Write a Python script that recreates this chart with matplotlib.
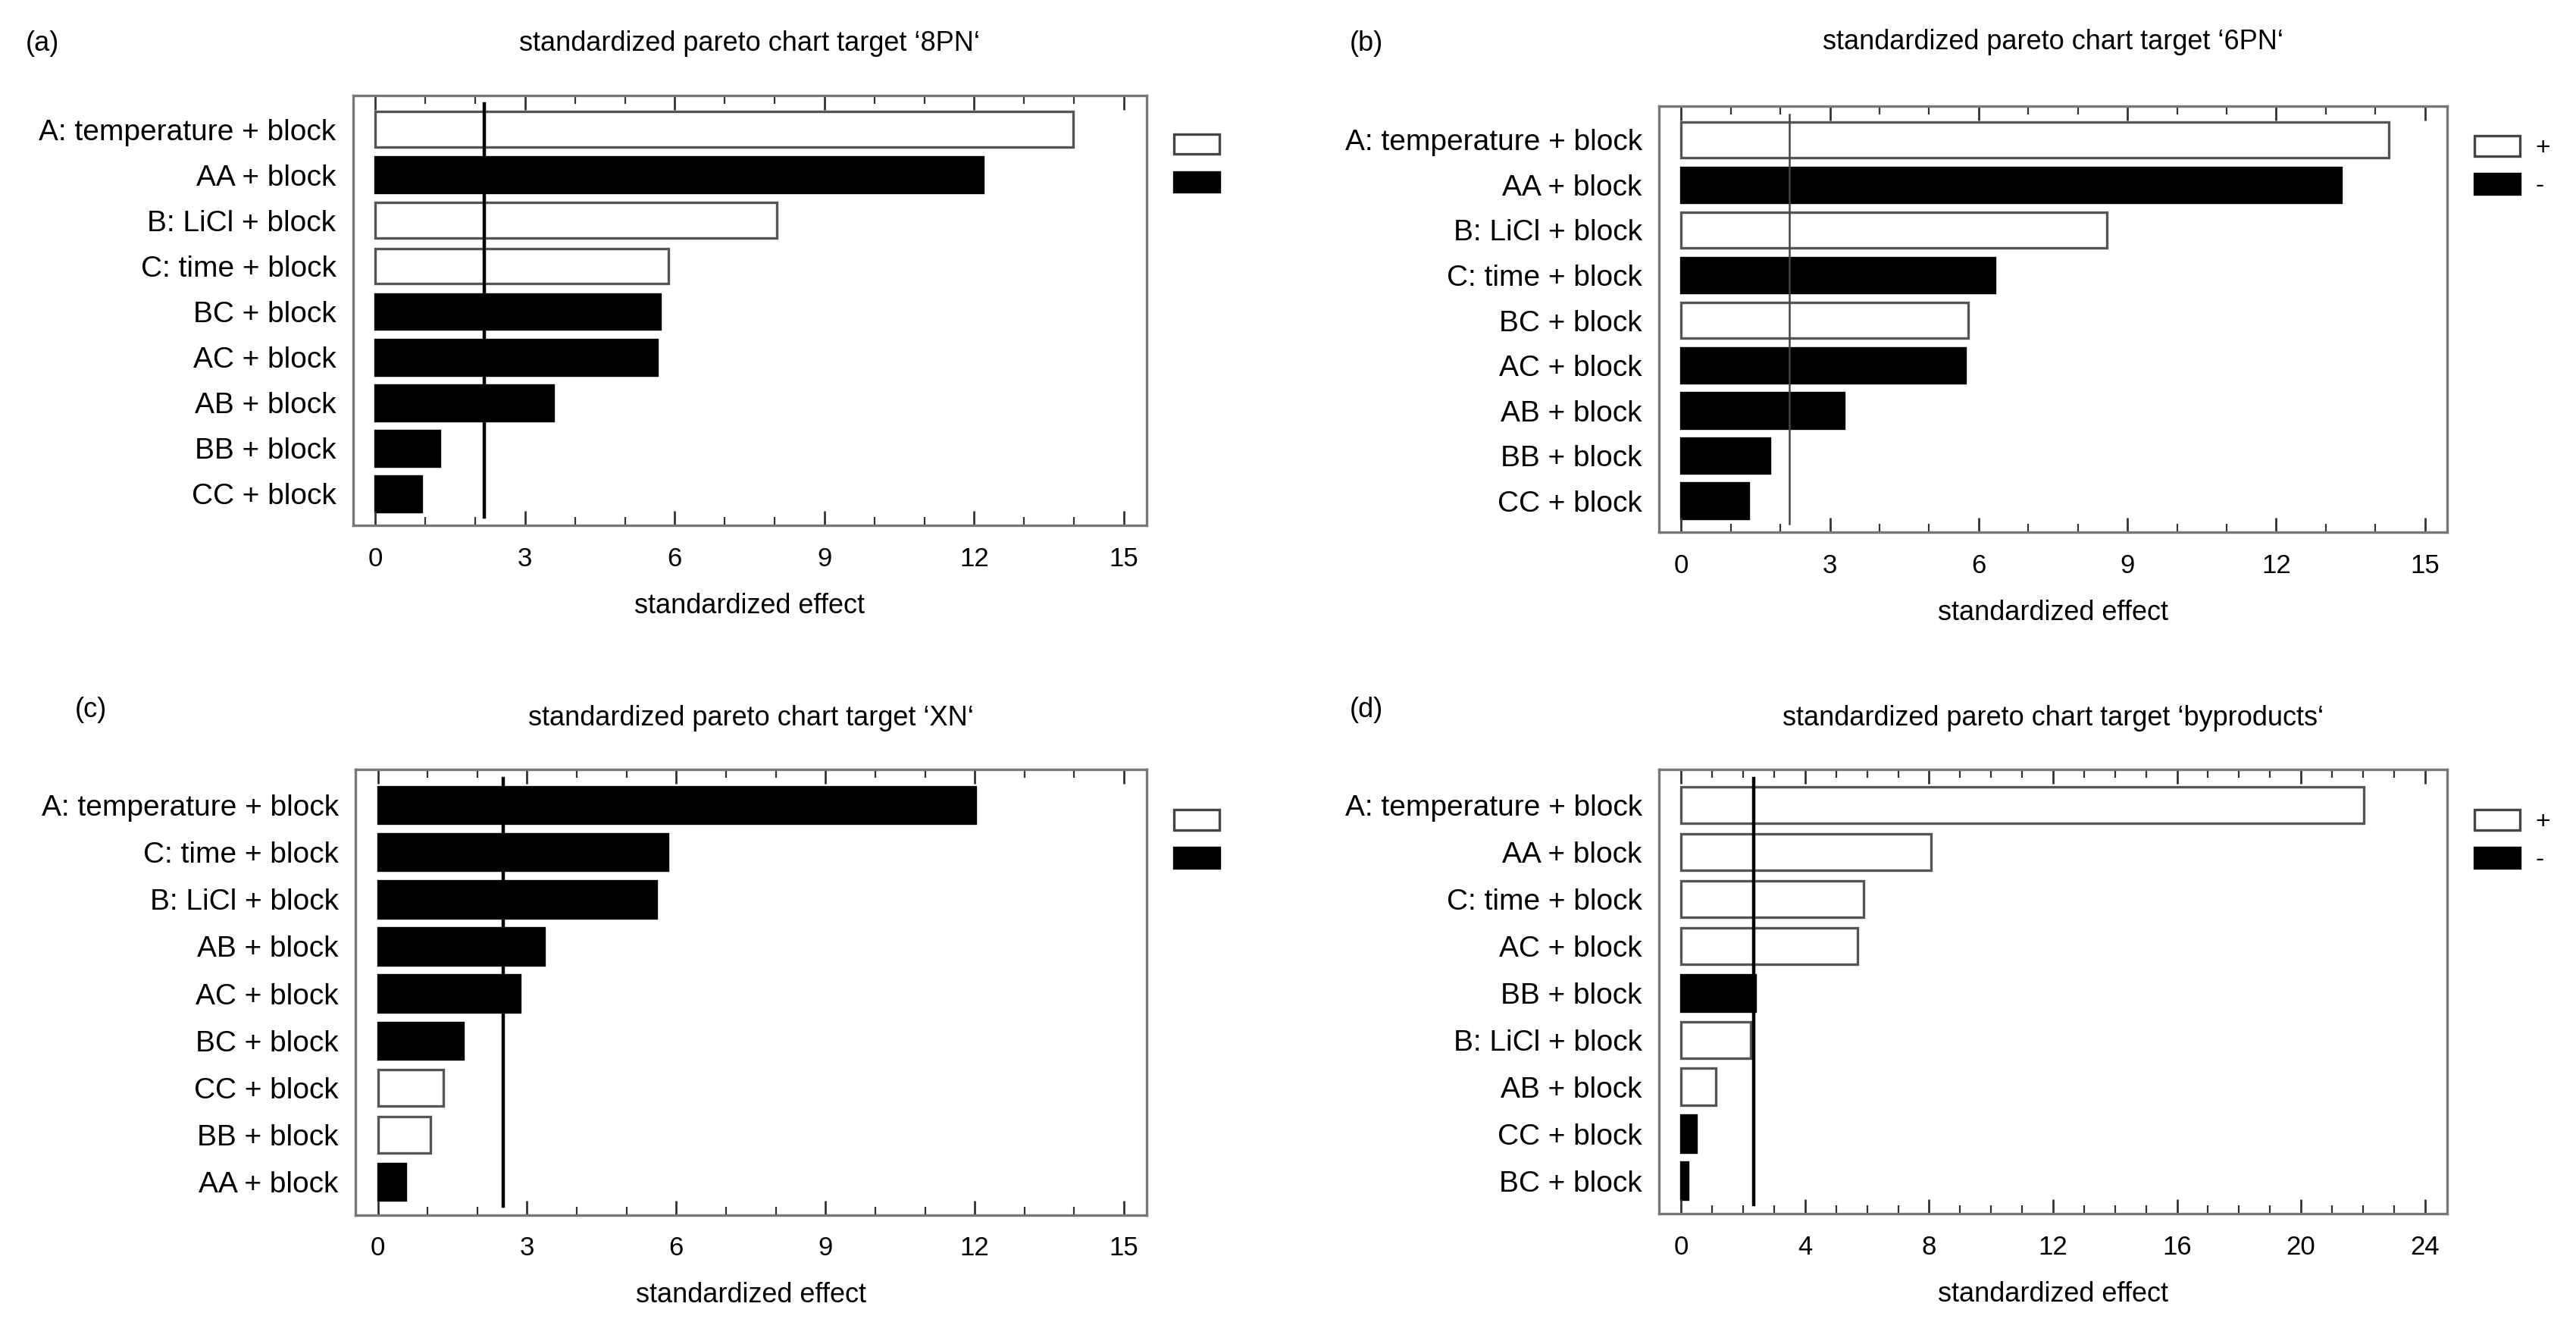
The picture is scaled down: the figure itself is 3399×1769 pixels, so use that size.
import matplotlib
matplotlib.use("Agg")
import matplotlib.pyplot as plt
from matplotlib.patches import Patch

plt.rcParams['font.family'] = ['Liberation Sans', 'DejaVu Sans']

# panel (a) target 8PN
labels_a = ['A: temperature + block', 'AA + block', 'B: LiCl + block', 'C: time + block',
            'BC + block', 'AC + block', 'AB + block', 'BB + block', 'CC + block']
values_a = [13.98, 12.17, 8.04, 5.87, 5.70, 5.64, 3.56, 1.29, 0.92]
signs_a = ['+', '-', '+', '+', '-', '-', '-', '-', '-']
limit_a = 2.18

# panel (b) target 6PN
labels_b = ['A: temperature + block', 'AA + block', 'B: LiCl + block', 'C: time + block',
            'BC + block', 'AC + block', 'AB + block', 'BB + block', 'CC + block']
values_b = [14.27, 13.31, 8.58, 6.32, 5.79, 5.73, 3.28, 1.79, 1.36]
signs_b = ['+', '-', '+', '-', '+', '-', '-', '-', '-']
limit_b = 2.18

# panel (c) target XN
labels_c = ['A: temperature + block', 'C: time + block', 'B: LiCl + block', 'AB + block',
            'AC + block', 'BC + block', 'CC + block', 'BB + block', 'AA + block']
values_c = [12.02, 5.83, 5.60, 3.34, 2.85, 1.72, 1.32, 1.06, 0.56]
signs_c = ['-', '-', '-', '-', '-', '-', '+', '+', '-']
limit_c = 2.52

# panel (d) target byproducts
labels_d = ['A: temperature + block', 'AA + block', 'C: time + block', 'AC + block',
            'BB + block', 'B: LiCl + block', 'AB + block', 'CC + block', 'BC + block']
values_d = [22.04, 8.07, 5.89, 5.68, 2.39, 2.23, 1.12, 0.48, 0.21]
signs_d = ['+', '+', '+', '+', '-', '+', '+', '-', '-']
limit_d = 2.34

W, H = 3399, 1769
fig = plt.figure(figsize=(W / 200, H / 200), dpi=200)

def pareto(rect, labels, values, signs, limit, xmax, step, title, tag, tagpos,
           legend_text, lw_line, line_col, tpad, leg_y):
    ax = fig.add_axes(rect)
    n = len(values)
    pos = list(range(n))
    colors = ['white' if s == '+' else 'black' for s in signs]
    edges = ['#555555' if s == '+' else 'black' for s in signs]
    ax.barh(pos, values, height=0.78, color=colors, edgecolor=edges, linewidth=1.2)
    ax.axvline(limit, color=line_col, lw=lw_line, ymin=0.02, ymax=0.98)
    pad = xmax * 0.03
    ax.set_xlim(-pad, xmax + pad)
    ax.set_ylim(n - 0.3, -0.75)
    ax.set_yticks(pos)
    ax.set_yticklabels(labels, fontsize=14)
    ax.tick_params(axis='y', length=0, pad=8)
    ax.set_xticks(range(0, xmax + 1, step))
    ax.set_xticks(range(0, xmax + 1, 1), minor=True)
    ax.tick_params(axis='x', which='major', direction='in', top=True, length=7,
                   width=1, labelsize=12.5, pad=10, color='#333333')
    ax.tick_params(axis='x', which='minor', direction='in', top=True, length=4,
                   width=0.8, color='#333333')
    for s in ax.spines.values():
        s.set_color('#777777')
        s.set_linewidth(1.2)
    ax.set_xlabel('standardized effect', fontsize=13, labelpad=10)
    ax.set_title(title, fontsize=13, pad=tpad)
    fig.text(tagpos[0], tagpos[1], tag, fontsize=13)
    handles = [Patch(facecolor='white', edgecolor='#444444', lw=1.2),
               Patch(facecolor='black', edgecolor='black', lw=1.2)]
    ax.legend(handles, legend_text, loc='upper left', bbox_to_anchor=(1.035, leg_y),
              frameon=False, fontsize=12, handlelength=1.8, handleheight=0.85,
              labelspacing=0.55, handletextpad=0.6, borderpad=0, borderaxespad=0)
    return ax

pareto([0.137, 0.608, 0.308, 0.321], labels_a, values_a, signs_a, limit_a, 15, 3,
       "standardized pareto chart target \u20188PN\u2018", '(a)', (0.010, 0.962),
       ['', ''], 1.6, 'black', 21, 0.91)
pareto([0.644, 0.603, 0.306, 0.318], labels_b, values_b, signs_b, limit_b, 15, 3,
       "standardized pareto chart target \u20186PN\u2018", '(b)', (0.524, 0.962),
       ['+', '-'], 0.9, '#444444', 27, 0.93)
pareto([0.138, 0.094, 0.307, 0.332], labels_c, values_c, signs_c, limit_c, 15, 3,
       "standardized pareto chart target \u2018XN\u2018", '(c)', (0.029, 0.465),
       ['', ''], 1.6, 'black', 21, 0.91)
pareto([0.644, 0.095, 0.306, 0.331], labels_d, values_d, signs_d, limit_d, 24, 4,
       "standardized pareto chart target \u2018byproducts\u2018", '(d)', (0.524, 0.465),
       ['+', '-'], 1.6, 'black', 21, 0.91)

fig.savefig('out.png', dpi=200, facecolor='white')
